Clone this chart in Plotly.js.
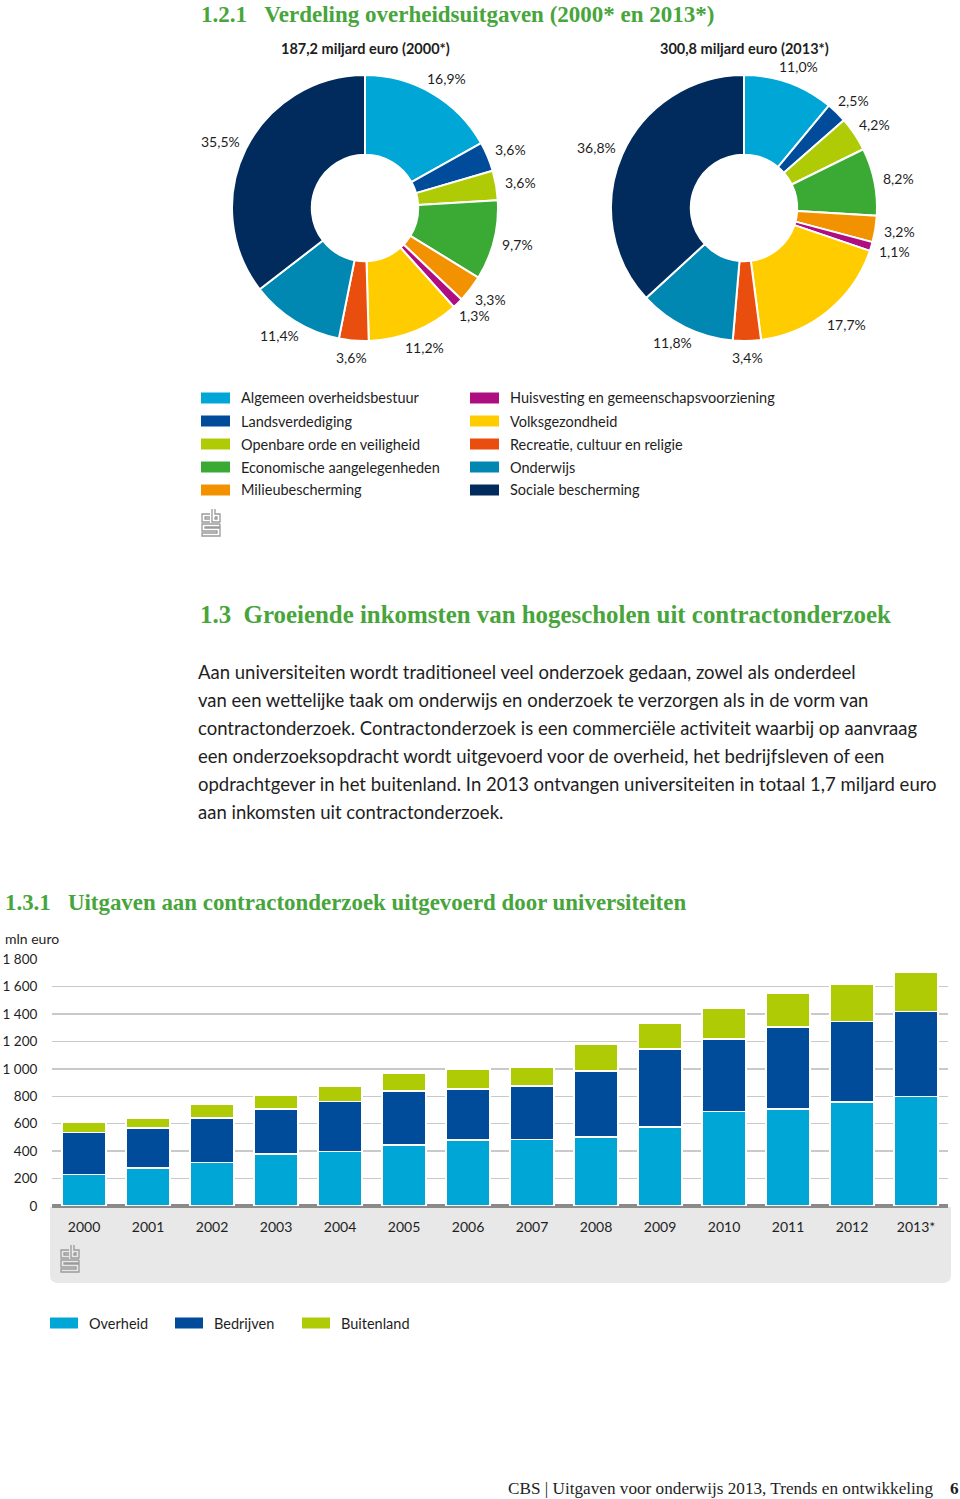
<!DOCTYPE html>
<html>
<head>
<meta charset="utf-8">
<script src="https://cdn.plot.ly/plotly-3.0.1.min.js"></script>
<style>html,body{margin:0;padding:0;background:#fff;}#chart{width:960px;height:1499px;}</style>
</head>
<body>
<div id="chart"></div>
<script>
// ---------- DATA ----------
const categories = ['Algemeen overheidsbestuur','Landsverdediging','Openbare orde en veiligheid','Economische aangelegenheden','Milieubescherming','Huisvesting en gemeenschapsvoorziening','Volksgezondheid','Recreatie, cultuur en religie','Onderwijs','Sociale bescherming'];
const share2000 = [16.9, 3.6, 3.6, 9.7, 3.3, 1.3, 11.2, 3.6, 11.4, 35.5];
const share2013 = [11.0, 2.5, 4.2, 8.2, 3.2, 1.1, 17.7, 3.4, 11.8, 36.8];
const pieTitle2000 = '187,2 miljard euro (2000*)';
const pieTitle2013 = '300,8 miljard euro (2013*)';

const years = ['2000','2001','2002','2003','2004','2005','2006','2007','2008','2009','2010','2011','2012','2013*'];
const overheid   = [230, 277, 316, 380, 399, 443, 482, 484, 504, 577, 689, 706, 759, 798];
const bedrijven  = [305, 292, 326, 328, 363, 394, 372, 392, 481, 569, 528, 598, 586, 620];
const buitenland = [ 75,  68,  98,  97, 109, 131, 146, 136, 195, 190, 226, 248, 271, 285];
const barSeries = ['Overheid','Bedrijven','Buitenland'];

const heading1 = '1.2.1\u00a0\u00a0\u00a0Verdeling overheidsuitgaven (2000* en 2013*)';
const heading2 = '1.3\u00a0\u00a0Groeiende inkomsten van hogescholen uit contractonderzoek';
const heading3 = '1.3.1\u00a0\u00a0\u00a0Uitgaven aan contractonderzoek uitgevoerd door universiteiten';
const bodyLines = [
  'Aan universiteiten wordt traditioneel veel onderzoek gedaan, zowel als onderdeel',
  'van een wettelijke taak om onderwijs en onderzoek te verzorgen als in de vorm van',
  'contractonderzoek. Contractonderzoek is een commerciële activiteit waarbij op aanvraag',
  'een onderzoeksopdracht wordt uitgevoerd voor de overheid, het bedrijfsleven of een',
  'opdrachtgever in het buitenland. In 2013 ontvangen universiteiten in totaal 1,7 miljard euro',
  'aan inkomsten uit contractonderzoek.'
];
const unitLabel = 'mln euro';
const footerText = 'CBS | Uitgaven voor onderwijs 2013, Trends en ontwikkeling';
const pageNumber = '6';

// ---------- STYLE ----------
const pieColors = ['#00a6d6','#004c9a','#afcb05','#3aaa35','#f39200','#af0e80','#ffcc00','#e94e0f','#0088b3','#002b5c'];
const barColors = ['#00a6d6','#004c9a','#afcb05'];
const green = '#47a53b';
const SANS = 'Lato, "Open Sans", sans-serif';
const SERIF = '"Liberation Serif", "DejaVu Serif", serif';
const TXT = '#1e1e1e';

const W = 960, H = 1499;
const X = p => p / W;
const Y = p => 1 - p / H;

const annotations = [];
const shapes = [];
function txt(x, y, text, o) {
  o = o || {};
  annotations.push({xref:'paper', yref:'paper', x:X(x), y:Y(y), text:text, showarrow:false,
    xanchor:o.xa || 'left', yanchor:'middle', borderpad:0,
    font:{family:o.family || SANS, size:o.size || 14, color:o.color || TXT}});
}
function rect(x0, y0, x1, y1, color) {
  shapes.push({type:'rect', xref:'paper', yref:'paper', x0:X(x0), x1:X(x1), y0:Y(y1), y1:Y(y0),
    fillcolor:color, line:{width:0}, layer:'above'});
}
function pathPx(pts) {
  return pts.map((p, i) => (i ? 'L' : 'M') + X(p[0]).toFixed(5) + ',' + Y(p[1]).toFixed(5)).join(' ');
}
function logo(x0, y0) {
  const g = '#9a9a9a';
  const paths = [
    [[x0+8,y0+5],[x0,y0+5],[x0,y0+13],[x0+8,y0+13]],
    [[x0+8,y0+8],[x0+3,y0+8],[x0+3,y0+10],[x0+8,y0+10]],
    [[x0+10,y0],[x0+10,y0+13],[x0+18,y0+13],[x0+18,y0+5],[x0+13,y0+5],[x0+13,y0]],
    [[x0+13,y0+8],[x0+15,y0+8],[x0+15,y0+10],[x0+13,y0+10],[x0+13,y0+8]],
    [[x0+18,y0+15],[x0,y0+15],[x0,y0+22],[x0+15,y0+22],[x0+15,y0+24],[x0,y0+24],[x0,y0+27],[x0+18,y0+27],[x0+18,y0+19],[x0+3,y0+19],[x0+3,y0+18],[x0+18,y0+18],[x0+18,y0+15]]
  ];
  paths.forEach(p => shapes.push({type:'path', xref:'paper', yref:'paper', path:pathPx(p),
    line:{color:g, width:1.3}, layer:'above'}));
}

// ---------- PIES ----------
const pieGeom = [
  {vals:share2000, cx:365, cy:208, r:133, title:pieTitle2000},
  {vals:share2013, cx:744, cy:208, r:133, title:pieTitle2013}
];
const traces = [];
pieGeom.forEach(g => {
  traces.push({
    type:'pie', values:g.vals, labels:categories, sort:false, direction:'clockwise', rotation:0,
    hole:0.4, textinfo:'none', hoverinfo:'label+value', showlegend:false,
    marker:{colors:pieColors, line:{color:'#ffffff', width:2}},
    domain:{x:[X(g.cx - g.r), X(g.cx + g.r)], y:[Y(g.cy + g.r), Y(g.cy - g.r)]}
  });
  // percentage labels: anchored just outside each slice's mid-angle
  const tot = g.vals.reduce((a, b) => a + b, 0);
  let cum = 0;
  g.vals.forEach(v => {
    const mid = (cum + v / 2) / tot * 2 * Math.PI;
    cum += v;
    const label = v.toFixed(1).replace('.', ',') + '%';
    const rl = g.r + 10, s = Math.sin(mid), c = Math.cos(mid);
    const tw = label.length * 7.3, th = 14;
    txt(g.cx + rl * s + s * tw / 2, g.cy - rl * c - c * th / 2, label, {xa:'center', size:14});
  });
  txt(g.cx, 49, '<b>' + g.title + '</b>', {xa:'center', size:14.5});
});

// ---------- BARS ----------
[overheid, bedrijven, buitenland].forEach((vals, i) => {
  traces.push({type:'bar', x:years, y:vals, name:barSeries[i], xaxis:'x', yaxis:'y',
    marker:{color:barColors[i], line:{color:'#ffffff', width:1.5}}, showlegend:false,
    hovertemplate:'%{x}: %{y}<extra>' + barSeries[i] + '</extra>'});
});

// ---------- TEXT ----------
txt(200, 15, '<b>' + heading1 + '</b>', {family:SERIF, size:23, color:green});
txt(199, 614, '<b>' + heading2 + '</b>', {family:SERIF, size:24.9, color:green});
txt(4, 902, '<b>' + heading3 + '</b>', {family:SERIF, size:22.9, color:green});
bodyLines.forEach((l, i) => txt(197, 672 + 28 * i, l, {size:18.5}));
txt(4, 938, unitLabel, {size:14});
txt(934, 1488, footerText, {family:SERIF, size:17.2, xa:'right'});
txt(960, 1488, '<b>' + pageNumber + '</b>', {family:SERIF, size:17.2, xa:'right'});

// pie legend
const legX = [201, 470];
categories.forEach((c, i) => {
  const col = i < 5 ? 0 : 1, row = i % 5;
  const yy = 398 + 23 * row;
  rect(legX[col], yy - 5.5, legX[col] + 29, yy + 5.5, pieColors[i]);
  txt(legX[col] + 39, yy, c, {size:14.5});
});
logo(202, 509);

// bar legend
const bLegX = [50, 175, 302];
barSeries.forEach((s, i) => {
  rect(bLegX[i], 1317.5, bLegX[i] + 28, 1328.5, barColors[i]);
  txt(bLegX[i] + 38, 1323, s, {size:14.5});
});

// grey band behind x labels (rounded bottom corners)
(function(){
  const x0 = 50, x1 = 951, y0 = 1207, y1 = 1283, r = 8;
  const p = 'M' + X(x0) + ',' + Y(y0) + ' L' + X(x1) + ',' + Y(y0) + ' L' + X(x1) + ',' + Y(y1 - r) +
    ' Q' + X(x1) + ',' + Y(y1) + ' ' + X(x1 - r) + ',' + Y(y1) + ' L' + X(x0 + r) + ',' + Y(y1) +
    ' Q' + X(x0) + ',' + Y(y1) + ' ' + X(x0) + ',' + Y(y1 - r) + ' Z';
  shapes.push({type:'path', xref:'paper', yref:'paper', path:p, fillcolor:'#e8e8e8', line:{width:0}, layer:'below'});
})();
logo(61, 1245);

const layout = {
  width:W, height:H, margin:{l:0, r:0, t:0, b:0},
  paper_bgcolor:'#ffffff', plot_bgcolor:'rgba(0,0,0,0)',
  separators:', ',
  barmode:'stack', bargap:0.3125,
  font:{family:SANS, color:TXT},
  xaxis:{type:'category', domain:[X(52), X(948)], anchor:'y', showgrid:false, showline:false, zeroline:false,
    tickmode:'array', tickvals:years, ticktext:years, tickangle:0,
    ticks:'outside', ticklen:8, tickcolor:'rgba(0,0,0,0)', tickfont:{family:SANS, size:14, color:TXT},
    fixedrange:true},
  yaxis:{domain:[Y(1206), Y(959)], anchor:'x', range:[0, 1801], dtick:200, tickformat:',d',
    showgrid:true, gridcolor:'#c9c9c9', gridwidth:1.5, zeroline:true, zerolinecolor:'#8a8a8a', zerolinewidth:3.5,
    showline:false, ticks:'outside', ticklen:11, tickcolor:'rgba(0,0,0,0)',
    tickfont:{family:SANS, size:13.5, color:TXT}, fixedrange:true},
  annotations:annotations,
  shapes:shapes,
  showlegend:false
};

Plotly.newPlot('chart', traces, layout, {displayModeBar:false, staticPlot:true});
</script>
</body>
</html>
